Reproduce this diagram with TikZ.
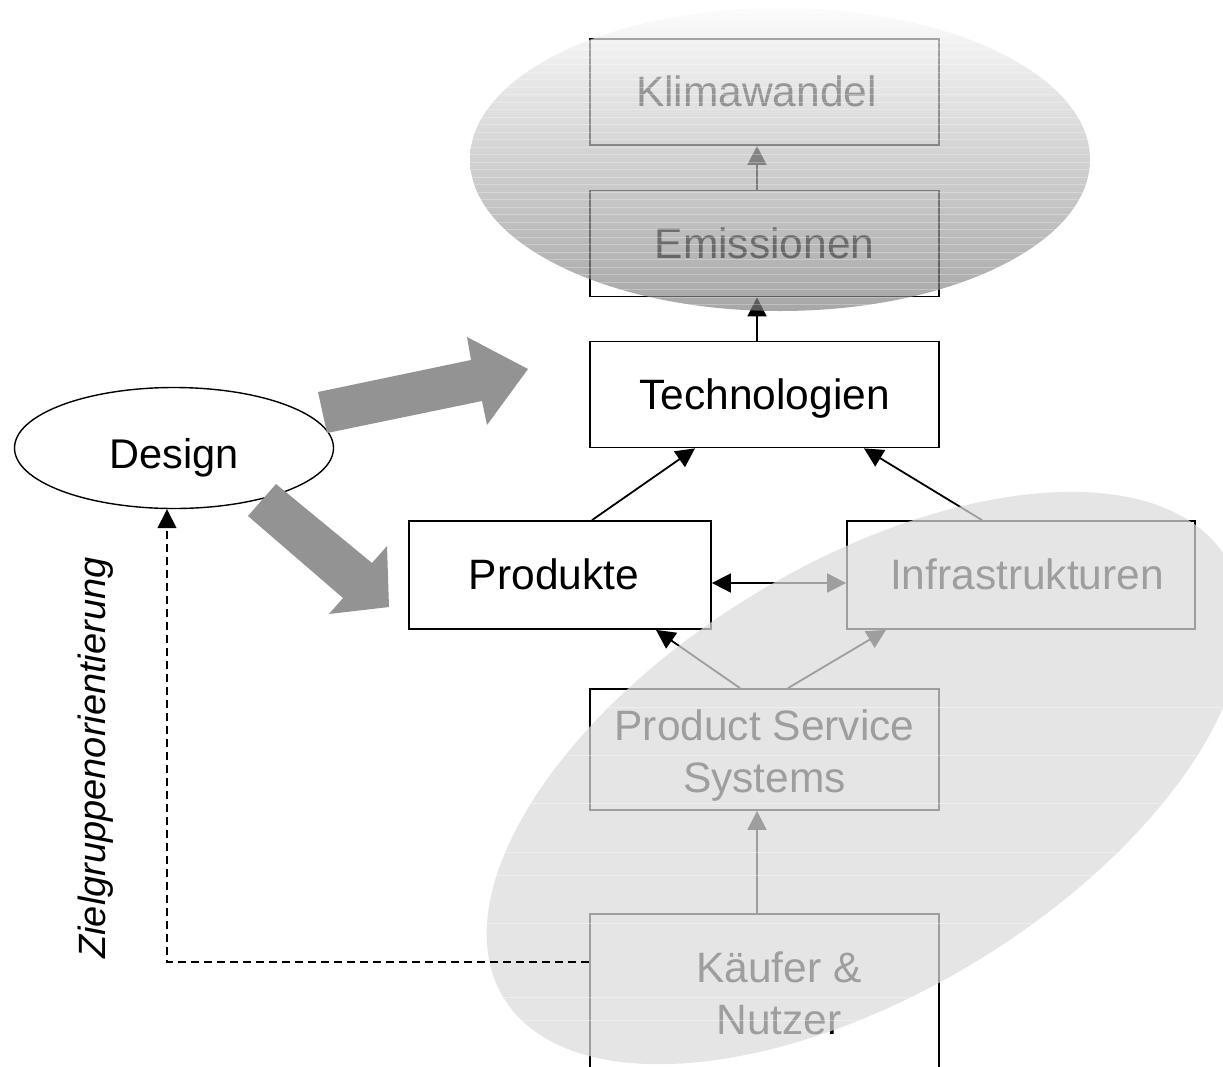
\documentclass[tikz,border=0pt]{standalone}
\usepackage{fontspec}
\setmainfont{Liberation Sans}
\usetikzlibrary{arrows.meta,shapes.geometric}
\definecolor{etop}{gray}{0.985}
\definecolor{ebot}{gray}{0.50}
\definecolor{lowfill}{gray}{0.86}
\definecolor{blockgray}{gray}{0.576}
\begin{document}
\begin{tikzpicture}[x=1pt,y=-1pt,
  box/.style={draw, line width=1.8pt, fill=white, inner sep=0pt,
    minimum width=349pt, minimum height=106pt,
    font=\fontsize{42.5}{52}\selectfont, text height=29pt, text depth=0pt},
  boxtext/.style={inner sep=0pt, font=\fontsize{42.5}{52}\selectfont, align=center},
  designnode/.style={draw, ellipse, line width=1.4pt, fill=white, inner sep=0pt,
    minimum width=319pt, minimum height=121pt,
    font=\fontsize{41.5}{48}\selectfont, text height=40pt, text depth=0pt},
  conn/.style={line width=1.8pt, -{Triangle[length=19pt,width=19pt]}},
  biconn/.style={line width=1.8pt, {Triangle[length=19pt,width=19pt]}-{Triangle[length=19pt,width=19pt]}},
  dashconn/.style={line width=1.5pt, dash pattern=on 8pt off 5pt, -{Triangle[length=19pt,width=19pt]}},
  blockarrow/.style={fill=blockgray},
  stripe/.style={white, opacity=0.28, line width=0.8pt}
]
\useasboundingbox (0,0) rectangle (1223,1066);
\fill[white] (0,0) rectangle (1223,1066);
\clip (0,0) rectangle (1223,1066);

% boxes
\node[box] (klima) at (764.5,92) {\hspace*{-16pt}Klimawandel};
\node[box] (emis) at (764.5,243.5) {Emissionen};
\node[box] (tech) at (764.5,394.5) {Technologien};
\node[box, minimum width=302pt, minimum height=108pt] (prod) at (560,575) {\hspace*{-12pt}Produkte};
\node[box, minimum width=348pt, minimum height=108pt] (infra) at (1021,575) {\hspace*{12pt}Infrastrukturen};
\node[box, minimum height=121pt] (pss) at (764.5,749.5) {};
\node[boxtext] (psstext) at (764.5,755) {Product Service\\Systems};
\node[box, minimum height=200pt] (kauf) at (764.5,1014) {};
\node[boxtext] (kauftext) at (779,993.7) {Käufer \&\\Nutzer};

% connectors
\draw[conn] ([xshift=-7.5pt]emis.north) -- ([xshift=-7.5pt]klima.south);
\draw[conn] ([xshift=-7.5pt]tech.north) -- ([xshift=-7.5pt]emis.south);
\draw[conn] ([xshift=32pt]prod.north) -- ([xshift=-69.5pt]tech.south);
\draw[conn] ([xshift=-39pt]infra.north) -- ([xshift=99.5pt]tech.south);
\draw[biconn] ([yshift=-8pt]prod.east) -- ([yshift=-8pt]infra.west);
\draw[conn] ([xshift=-24.5pt]pss.north) -- ([xshift=96pt]prod.south);
\draw[conn] ([xshift=23.5pt]pss.north) -- ([xshift=-135pt]infra.south);
\draw[conn] ([xshift=-7.5pt]kauf.north) -- ([xshift=-7.5pt]pss.south);

% design and block arrows
\node[designnode] (design) at (174,448) {Design};
\fill[blockarrow] (318,392) -- (471,360) -- (467,337) -- (528,369) -- (487,425) -- (482,401) -- (327,433) -- cycle;
\fill[blockarrow] (276,484) -- (372,563) -- (387,546) -- (389,607) -- (329,614) -- (343,598) -- (248,516) -- cycle;
\node[rotate=90, inner sep=0pt, font=\itshape\fontsize{38}{44}\selectfont] (ziel) at (95.5,758) {Zielgruppenorientierung};

% upper overlay ellipse
\shade[top color=etop, bottom color=ebot, opacity=0.69] (780,159.5) ellipse [x radius=310pt, y radius=151.5pt];
\begin{scope}
  \clip (780,159.5) ellipse [x radius=310pt, y radius=151.5pt];
  \foreach \yy in {12,19.5,...,312} \draw[stripe] (460,\yy) -- (1100,\yy);
\end{scope}

% lower overlay ellipse
\fill[lowfill, opacity=0.72, rotate around={31.3:(865,778)}] (865,778) ellipse [x radius=423pt, y radius=214.5pt];
\begin{scope}
  \clip[rotate around={31.3:(865,778)}] (865,778) ellipse [x radius=423pt, y radius=214.5pt];
  \foreach \yy in {707,755,803,852,875,923,997,1020} \draw[stripe, opacity=0.35] (450,\yy) -- (1223,\yy);
\end{scope}

% dashed feedback
\draw[dashconn] ([yshift=52pt]kauf.west) -| ([xshift=-7pt]design.south);
\end{tikzpicture}
\end{document}
